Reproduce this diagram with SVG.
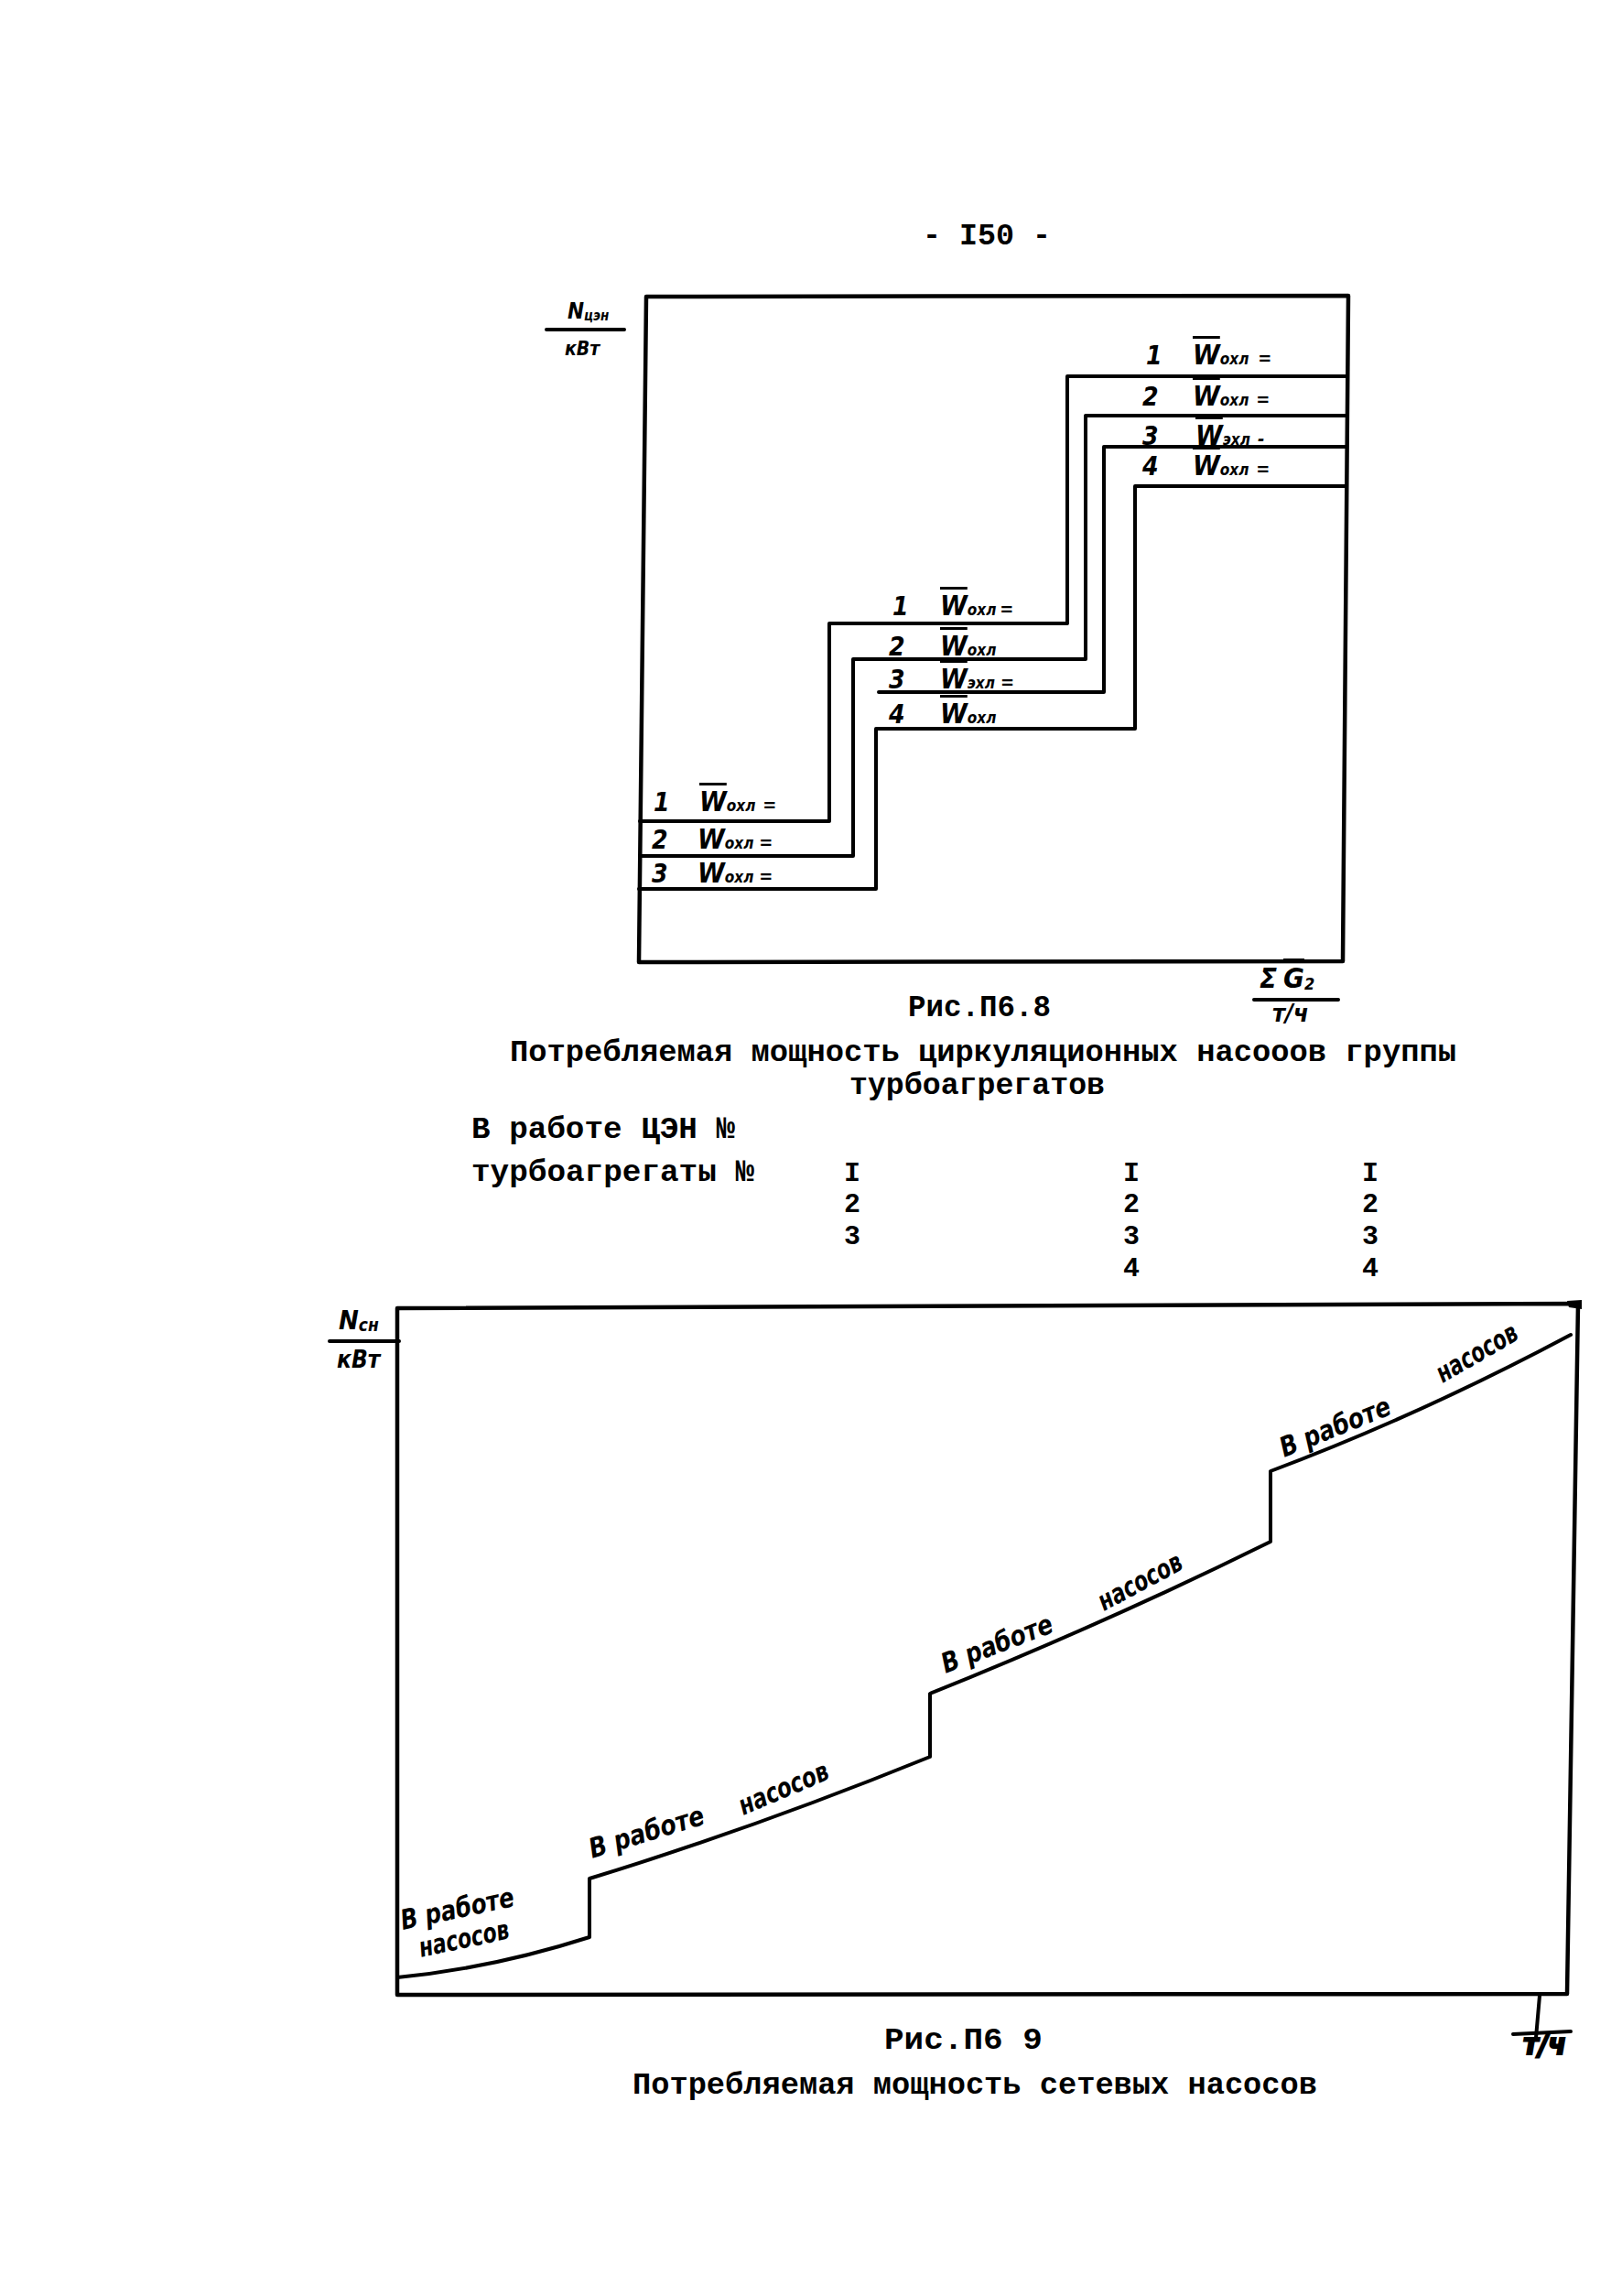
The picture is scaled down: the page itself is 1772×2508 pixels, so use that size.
<svg xmlns="http://www.w3.org/2000/svg" width="1772" height="2508" viewBox="0 0 1772 2508">
<style>
.bg{fill:#fff}
.frame{fill:none;stroke:#000;stroke-width:4.5;stroke-linejoin:round;stroke-linecap:round}
.step{fill:none;stroke:#000;stroke-width:4;stroke-linejoin:round;stroke-linecap:round}
.curve{fill:none;stroke:#000;stroke-width:4;stroke-linejoin:round;stroke-linecap:round}
.tw{font-family:"Liberation Mono","DejaVu Sans Mono",monospace;font-weight:bold;font-size:34px;fill:#000}
.col{font-size:30px}
.hw{font-family:"DejaVu Sans Condensed","DejaVu Sans",sans-serif;font-style:italic;font-weight:bold;fill:#000}
.num{font-size:28px}
.w{font-size:30px;text-decoration:overline}
.sub{font-size:17px}
.eq{font-size:20px}
.rl{font-size:30px}
</style>
<rect class="bg" x="0" y="0" width="1772" height="2508"/>

<g id="page-number"><text class="tw" x="1008" y="267" textLength="140" lengthAdjust="spacingAndGlyphs">- I50 -</text></g>

<!-- ===== Figure P6.8 ===== -->
<g id="fig8-frame"><path class="frame" d="M706 324 L1473 323 L1467 1050 L698 1051 Z"/></g>
<g id="fig8-yaxis-label">
  <text class="hw" x="620" y="348"><tspan font-size="24">N</tspan><tspan font-size="15" dy="2">цэн</tspan></text>
  <line class="step" x1="597" y1="360" x2="682" y2="360" stroke-width="3"/>
  <text class="hw" x="617" y="388" font-size="21">кВт</text>
</g>
<g id="fig8-xaxis-label">
  <text class="hw" x="1376" y="1079"><tspan font-size="31">Σ</tspan><tspan font-size="31" dx="7" text-decoration="overline">G</tspan><tspan font-size="18" dy="2">2</tspan></text>
  <line class="step" x1="1370" y1="1092" x2="1462" y2="1092" stroke-width="3.5"/>
  <text class="hw" x="1390" y="1116" font-size="27">т/ч</text>
</g>

<g id="connectors">
  <path id="curve-1" class="step" d="M1472 411 H1166 V681 H906 V897 H699"/>
  <path id="curve-2" class="step" d="M1472 454 H1186 V720 H932 V935 H699"/>
  <path id="curve-3" class="step" d="M1471 488 H1206 V756 H960"/>
  <path id="curve-4" class="step" d="M1470 531 H1240 V796 H957 V971 H698"/>
  <path id="curve-sn" class="curve" d="M434 2160 Q538 2150 644 2116 V2052 Q824 1997 1016 1919 V1850 Q1210 1772 1388 1684 V1607 Q1553 1545 1716 1458"/>
</g>

<g id="lbl-u1"><text class="hw" y="398"><tspan class="num" x="1252">1</tspan><tspan class="w" x="1303">W</tspan><tspan class="sub">охл</tspan><tspan class="eq" dx="10">=</tspan></text></g>
<g id="lbl-u2"><text class="hw" y="443"><tspan class="num" x="1248">2</tspan><tspan class="w" x="1303">W</tspan><tspan class="sub">охл</tspan><tspan class="eq" dx="8">=</tspan></text></g>
<g id="lbl-u3"><text class="hw" y="486"><tspan class="num" x="1248">3</tspan><tspan class="w" x="1306">W</tspan><tspan class="sub">эхл</tspan><tspan class="eq" dx="8">-</tspan></text></g>
<g id="lbl-u4"><text class="hw" y="519"><tspan class="num" x="1248">4</tspan><tspan class="w" x="1303">W</tspan><tspan class="sub">охл</tspan><tspan class="eq" dx="8">=</tspan></text></g>

<g id="lbl-m1"><text class="hw" y="672"><tspan class="num" x="975">1</tspan><tspan class="w" x="1027">W</tspan><tspan class="sub">охл</tspan><tspan class="eq" dx="4">=</tspan></text></g>
<g id="lbl-m2"><text class="hw" y="716"><tspan class="num" x="971">2</tspan><tspan class="w" x="1027">W</tspan><tspan class="sub">охл</tspan></text></g>
<g id="lbl-m3"><text class="hw" y="752"><tspan class="num" x="971">3</tspan><tspan class="w" x="1027">W</tspan><tspan class="sub">эхл</tspan><tspan class="eq" dx="6">=</tspan></text></g>
<g id="lbl-m4"><text class="hw" y="790"><tspan class="num" x="971">4</tspan><tspan class="w" x="1027">W</tspan><tspan class="sub">охл</tspan></text></g>

<g id="lbl-l1"><text class="hw" y="886"><tspan class="num" x="714">1</tspan><tspan class="w" x="764">W</tspan><tspan class="sub">охл</tspan><tspan class="eq" dx="8">=</tspan></text></g>
<g id="lbl-l2"><text class="hw" y="927"><tspan class="num" x="712">2</tspan><tspan class="w" x="762">W</tspan><tspan class="sub">охл</tspan><tspan class="eq" dx="6">=</tspan></text></g>
<g id="lbl-l3"><text class="hw" y="964"><tspan class="num" x="712">3</tspan><tspan class="w" x="762">W</tspan><tspan class="sub">охл</tspan><tspan class="eq" dx="6">=</tspan></text></g>

<g id="fig8-caption">
  <text class="tw" x="992" y="1110" textLength="156" lengthAdjust="spacingAndGlyphs">Рис.П6.8</text>
  <text class="tw" x="557" y="1159" textLength="1034" lengthAdjust="spacingAndGlyphs">Потребляемая мощность циркуляционных насооов группы</text>
  <text class="tw" x="928" y="1195" textLength="279" lengthAdjust="spacingAndGlyphs">турбоагрегатов</text>
</g>

<g id="table-heads">
  <text class="tw" x="515" y="1243" textLength="288" lengthAdjust="spacingAndGlyphs">В работе ЦЭН №</text>
  <text class="tw" x="515" y="1290" textLength="309" lengthAdjust="spacingAndGlyphs">турбоагрегаты №</text>
</g>
<g id="col-1" text-anchor="middle">
  <text class="tw col" x="931" y="1290">I</text>
  <text class="tw col" x="931" y="1324">2</text>
  <text class="tw col" x="931" y="1359">3</text>
</g>
<g id="col-2" text-anchor="middle">
  <text class="tw col" x="1236" y="1290">I</text>
  <text class="tw col" x="1236" y="1324">2</text>
  <text class="tw col" x="1236" y="1359">3</text>
  <text class="tw col" x="1236" y="1394">4</text>
</g>
<g id="col-3" text-anchor="middle">
  <text class="tw col" x="1497" y="1290">I</text>
  <text class="tw col" x="1497" y="1324">2</text>
  <text class="tw col" x="1497" y="1359">3</text>
  <text class="tw col" x="1497" y="1394">4</text>
</g>

<!-- ===== Figure P6.9 ===== -->
<g id="fig9-frame">
  <path class="frame" d="M434 1429 L1724 1424 L1712 2178 L434 2179 Z"/>
  <path d="M1712 1421 L1728 1420 L1728 1430 L1714 1428 Z" fill="#000"/>
</g>
<g id="fig9-yaxis-label">
  <text class="hw" x="370" y="1452"><tspan font-size="29">N</tspan><tspan font-size="19" dy="2">сн</tspan></text>
  <line class="step" x1="360" y1="1465" x2="436" y2="1465" stroke-width="3"/>
  <text class="hw" x="368" y="1494" font-size="26">кВт</text>
</g>
<g id="fig9-xaxis-label">
  <line class="step" x1="1682" y1="2180" x2="1678" y2="2226" stroke-width="6"/>
  <line class="step" x1="1653" y1="2222" x2="1716" y2="2219" stroke-width="6"/>
  <text class="hw" x="1664" y="2244" font-size="32" font-weight="900" stroke="#000" stroke-width="2">т/ч</text>
</g>

<g id="seg-label-1">
  <text class="hw rl" transform="translate(440 2108) rotate(-12)" textLength="126" lengthAdjust="spacingAndGlyphs">В работе</text>
  <text class="hw rl" transform="translate(460 2138) rotate(-12)" textLength="100" lengthAdjust="spacingAndGlyphs">насосов</text>
</g>
<g id="seg-label-2">
  <text class="hw rl" transform="translate(647 2030) rotate(-17)" textLength="130" lengthAdjust="spacingAndGlyphs">В работе</text>
  <text class="hw rl" transform="translate(812 1983) rotate(-23)" textLength="104" lengthAdjust="spacingAndGlyphs">насосов</text>
</g>
<g id="seg-label-3">
  <text class="hw rl" transform="translate(1033 1828) rotate(-21)" textLength="128" lengthAdjust="spacingAndGlyphs">В работе</text>
  <text class="hw rl" transform="translate(1206 1760) rotate(-28)" textLength="100" lengthAdjust="spacingAndGlyphs">насосов</text>
</g>
<g id="seg-label-4">
  <text class="hw rl" transform="translate(1403 1592) rotate(-22)" textLength="128" lengthAdjust="spacingAndGlyphs">В работе</text>
  <text class="hw rl" transform="translate(1576 1511) rotate(-30)" textLength="98" lengthAdjust="spacingAndGlyphs">насосов</text>
</g>

<g id="fig9-caption">
  <text class="tw" x="966" y="2238" textLength="173" lengthAdjust="spacingAndGlyphs">Рис.П6 9</text>
  <text class="tw" x="691" y="2287" textLength="748" lengthAdjust="spacingAndGlyphs">Потребляемая мощность сетевых насосов</text>
</g>
</svg>
